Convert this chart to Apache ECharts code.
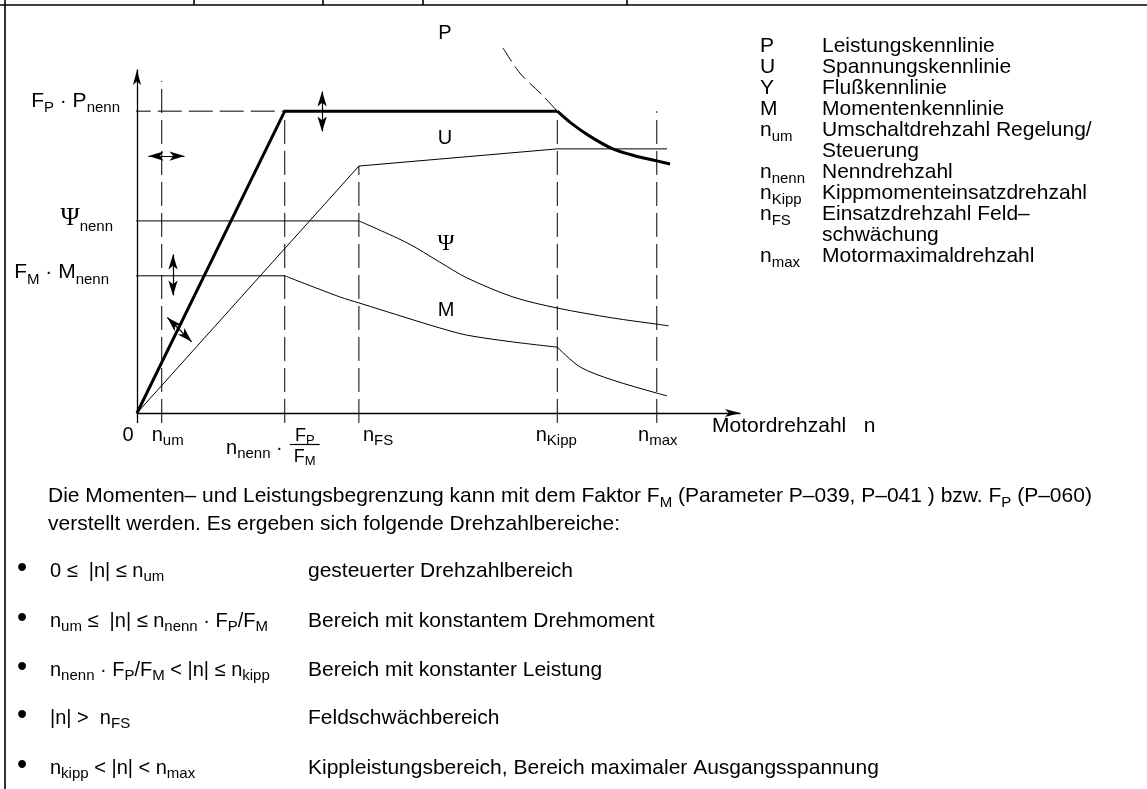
<!DOCTYPE html>
<html>
<head>
<meta charset="utf-8">
<script src="https://cdn.jsdelivr.net/npm/echarts@6/dist/echarts.min.js"></script>
<style>
  html, body { margin: 0; padding: 0; background: #fff; }
  #chart { width: 1147px; height: 789px; }
</style>
</head>
<body>
<div id="chart"></div>
<script>
// ---- speed markers on the n axis (relative units, 0..100) ----
const speedKeys = ['0', 'n_um', 'n_nenn*FP/FM', 'n_FS', 'n_Kipp', 'n_max'];
const speedValues = [0, 4.1, 24.5, 36.8, 69.7, 86.2];
// top of each dashed guide (same order as speedValues, from n_um on)
const guideTops = [96.8, 88, 72, 88, 88];
const guideFloor = -2.9;

// ---- levels on the vertical axis ----
const levelValues = [88, 56, 40];          // F_P·P_nenn, Ψ_nenn, F_M·M_nenn
const levelStart = -1.7;                   // level lines begin left of the axis

// ---- characteristic curves [n, value] ----
const powerRise = [[0, 0], [24.5, 88], [69.7, 88]];
const powerFall = [[69.7, 88], [72.0, 84.5], [75.0, 80.8], [78.9, 77.0], [82.5, 75.0], [86.2, 73.5], [88.4, 72.6]];
const powerHyperbola = [[60.7, 106.4], [63.5, 99.1], [67.2, 92.7], [69.7, 88]];
const voltage = [[0, 0], [36.8, 72.0], [69.7, 77.0], [87.9, 77.0]];
const fluxFall = [[36.8, 56], [44.8, 49.6], [50.2, 44.0], [54.7, 39.4], [62.4, 33.8], [69.7, 30.6], [78.9, 27.7], [86.2, 25.9], [88.2, 25.4]];
const torqueFall = [[24.5, 40], [33.7, 33.8], [36.8, 32.1], [44.8, 27.7], [50.2, 24.8], [54.7, 22.7], [62.4, 20.7], [69.7, 19.2]];
const torqueKipp = [[69.7, 19.2], [73.5, 13.4], [78.9, 9.6], [86.2, 5.8], [87.9, 5.0]];

// ---- adjustment arrows: tip-to-tip [n, value] ----
const adjustArrows = [
  [[0.66, 74.9], [9.12, 74.9]],
  [[30.7, 95.9], [30.7, 79.9]],
  [[5.97, 48.4], [5.97, 32.1]],
  [[4.15, 29.4], [9.95, 19.2]]
];

// ---- texts ----
const speedLabels = [
  [['a', '0']],
  [['a', 'n'], ['as', 'um']],
  null,
  [['a', 'n'], ['as', 'FS']],
  [['a', 'n'], ['as', 'Kipp']],
  [['a', 'n'], ['as', 'max']]
];
const nennLabel = [['a', 'n'], ['as', 'nenn'], ['a', ' ·']];
const fractionTop = [['f', 'F'], ['fs', 'P']];
const fractionBottom = [['f', 'F'], ['fs', 'M']];
const levelLabels = [
  [['m', 'F'], ['s', 'P'], ['m', ' · P'], ['s', 'nenn']],
  [['g', 'Ψ'], ['s', 'nenn']],
  [['m', 'F'], ['s', 'M'], ['m', ' · M'], ['s', 'nenn']]
];
const axisTitle = [['m', 'Motordrehzahl   n']];
const curveNames = [[['c', 'P']], [['c', 'U']], [['cg', 'Ψ']], [['c', 'M']]];
const legendRows = [
  [[['m', 'P']], 'Leistungskennlinie'],
  [[['m', 'U']], 'Spannungskennlinie'],
  [[['m', 'Y']], 'Flußkennlinie'],
  [[['m', 'M']], 'Momentenkennlinie'],
  [[['m', 'n'], ['s', 'um']], 'Umschaltdrehzahl Regelung/'],
  [null, 'Steuerung'],
  [[['m', 'n'], ['s', 'nenn']], 'Nenndrehzahl'],
  [[['m', 'n'], ['s', 'Kipp']], 'Kippmomenteinsatzdrehzahl'],
  [[['m', 'n'], ['s', 'FS']], 'Einsatzdrehzahl Feld–'],
  [null, 'schwächung'],
  [[['m', 'n'], ['s', 'max']], 'Motormaximaldrehzahl']
];
const paragraph = [
  [['p', 'Die Momenten– und Leistungsbegrenzung kann mit dem Faktor F'], ['ps', 'M'], ['p', ' (Parameter P–039, P–041 ) bzw. F'], ['ps', 'P'], ['p', ' (P–060)']],
  [['p', 'verstellt werden. Es ergeben sich folgende Drehzahlbereiche:']]
];
const rangeFormulas = [
  [['r', '0 ≤  |n| ≤ n'], ['rs', 'um']],
  [['r', 'n'], ['rs', 'um'], ['r', ' ≤  |n| ≤ n'], ['rs', 'nenn'], ['r', ' · F'], ['rs', 'P'], ['r', '/F'], ['rs', 'M']],
  [['r', 'n'], ['rs', 'nenn'], ['r', ' · F'], ['rs', 'P'], ['r', '/F'], ['rs', 'M'], ['r', ' < |n| ≤ n'], ['rs', 'kipp']],
  [['r', '|n| >  n'], ['rs', 'FS']],
  [['r', 'n'], ['rs', 'kipp'], ['r', ' < |n| < n'], ['rs', 'max']]
];
const rangeNames = [
  'gesteuerter Drehzahlbereich',
  'Bereich mit konstantem Drehmoment',
  'Bereich mit konstanter Leistung',
  'Feldschwächbereich',
  'Kippleistungsbereich, Bereich maximaler Ausgangsspannung'
];

// ---- layout & style ----
const INK = '#000';
const SANS = '"Liberation Sans", Arial, Helvetica, sans-serif';
const SERIF = '"Liberation Serif", "Times New Roman", serif';
// [font size, family, baseline shift]
const TOKENS = {
  m: [21, 'sans', 0], s: [15, 'sans', 5],
  p: [21, 'sans', 0], ps: [15, 'sans', 5],
  r: [20, 'sans', 0], rs: [15, 'sans', 4],
  a: [20, 'sans', 0], as: [15, 'sans', 4],
  f: [18, 'sans', 0], fs: [13, 'sans', 3],
  g: [26, 'serif', 0], c: [20, 'sans', 0], cg: [23, 'serif', 0],
  b: [29, 'sans', 0]
};
const TOP = 32;
const rich = {};
Object.keys(TOKENS).forEach(function (k) {
  const size = TOKENS[k][0], serif = TOKENS[k][1] === 'serif', dy = TOKENS[k][2];
  const mid = serif ? 0.3375 : 0.3465;
  rich[k] = {
    fontSize: size, fontFamily: serif ? SERIF : SANS, fill: INK,
    lineHeight: 64, verticalAlign: 'top',
    padding: [Math.max(0, TOP + dy - size / 2 - mid * size), 0, 0, 0]
  };
});
function textEl(parts, x, baseline, align) {
  return {
    type: 'text', silent: true, z: 20,
    style: {
      text: parts.map(function (p) { return '{' + p[0] + '|' + p[1] + '}'; }).join(''),
      rich: rich, x: x, y: baseline - TOP, align: align || 'left', verticalAlign: 'top'
    }
  };
}
function segLine(x1, y1, x2, y2, w) {
  return { type: 'line', silent: true, z: 20, shape: { x1: x1, y1: y1, x2: x2, y2: y2 }, style: { stroke: INK, lineWidth: w || 1 } };
}

const speedLabelLayout = [
  { align: 'center', dx: -9 }, { align: 'left', dx: -10 }, null,
  { align: 'left', dx: 4 }, { align: 'center', dx: -1 }, { align: 'center', dx: 1 }
];
const levelLabelLayout = [{ right: 120, dy: -3 }, { right: 113, dy: 6 }, { right: 109, dy: 4 }];
const curveNameLayout = [[445, 40], [445, 145], [446, 252], [446, 317]];
const DASH = [24, 7];

function curve(data, width, extra) {
  return Object.assign({
    type: 'line', data: data, showSymbol: false, symbol: 'none', clip: false, silent: true,
    lineStyle: { color: INK, width: width }, z: 3
  }, extra || {});
}

const series = [];
// dashed speed guides
for (let i = 1; i < speedValues.length; i++) {
  series.push(curve([[speedValues[i], guideFloor], [speedValues[i], guideTops[i - 1]]], 1, { lineStyle: { color: INK, width: 1, type: DASH } }));
}
// level lines
series.push(curve([[levelStart, levelValues[0]], [powerRise[1][0], levelValues[0]]], 1, { lineStyle: { color: INK, width: 1, type: DASH } }));
series.push(curve([[levelStart, levelValues[1]], [fluxFall[0][0], levelValues[1]]], 1));
series.push(curve([[levelStart, levelValues[2]], [torqueFall[0][0], levelValues[2]]], 1));
// characteristics
series.push(curve(voltage, 1));
series.push(curve(fluxFall, 1, { smooth: 0.3 }));
series.push(curve(torqueFall, 1, { smooth: 0.3 }));
series.push(curve(torqueKipp, 1, { smooth: 0.3 }));
series.push(curve(powerHyperbola, 1, { smooth: 0.3, lineStyle: { color: INK, width: 1, type: [16, 6] } }));
series.push(curve(powerRise, 3, { z: 5, lineStyle: { color: INK, width: 3, join: 'miter' } }));
series.push(curve(powerFall, 3, { z: 5, smooth: 0.3 }));
series.push({
  id: 'arrows', type: 'lines', coordinateSystem: 'cartesian2d', clip: false, silent: true, z: 6,
  symbol: ['arrow', 'arrow'], symbolSize: [[7, 15], [7, 15]],
  lineStyle: { color: INK, width: 1.2, opacity: 1 }, data: []
});

const axisLine = { show: true, onZero: false, symbol: ['none', 'arrow'], symbolSize: [6, 15], lineStyle: { color: INK, width: 1.3 } };
const option = {
  animation: false,
  backgroundColor: '#fff',
  grid: { left: 137, top: 70, width: 603, height: 343, containLabel: false },
  xAxis: {
    type: 'value', min: 0, max: 100, axisLine: axisLine,
    axisTick: { show: true, customValues: [0], length: 10, inside: false, lineStyle: { color: INK, width: 1.3 } },
    axisLabel: { show: false }, splitLine: { show: false }
  },
  yAxis: {
    type: 'value', min: 0, max: 100, axisLine: axisLine,
    axisTick: { show: false }, axisLabel: { show: false }, splitLine: { show: false }
  },
  series: series
};

const chart = echarts.init(document.getElementById('chart'), null, { renderer: 'canvas' });
chart.setOption(option);

const toPx = function (x, y) { return chart.convertToPixel({ gridIndex: 0 }, [x, y]); };
const toData = function (p) { return chart.convertFromPixel({ gridIndex: 0 }, p); };

// arrow heads sit centred on line ends: pull ends in by half a head
const HEAD = 7.5;
const arrowData = adjustArrows.map(function (a) {
  const p1 = toPx(a[0][0], a[0][1]), p2 = toPx(a[1][0], a[1][1]);
  const dx = p2[0] - p1[0], dy = p2[1] - p1[1], len = Math.sqrt(dx * dx + dy * dy);
  const ux = dx / len, uy = dy / len;
  return { coords: [toData([p1[0] + ux * HEAD, p1[1] + uy * HEAD]), toData([p2[0] - ux * HEAD, p2[1] - uy * HEAD])] };
});

const els = [];
// page frame
els.push(segLine(0, 5, 1147, 5, 1.6));
els.push(segLine(5, 0, 5, 789, 1.6));
[194, 323, 423, 627].forEach(function (x) { els.push(segLine(x, 0, x, 5, 1.6)); });

// speed tick labels
const axisY = toPx(0, 0)[1];
speedValues.forEach(function (v, i) {
  const px = toPx(v, 0)[0];
  if (speedLabels[i]) {
    els.push(textEl(speedLabels[i], px + speedLabelLayout[i].dx, axisY + 29, speedLabelLayout[i].align));
  } else {
    els.push(textEl(nennLabel, px - 2, axisY + 42, 'right'));
    els.push(textEl(fractionTop, px + 20, axisY + 29, 'center'));
    els.push(segLine(px + 5, axisY + 31.5, px + 35, axisY + 31.5, 1.2));
    els.push(textEl(fractionBottom, px + 20, axisY + 50, 'center'));
  }
});
els.push(textEl(axisTitle, 712, axisY + 20, 'left'));

// level labels
levelValues.forEach(function (v, i) {
  els.push(textEl(levelLabels[i], levelLabelLayout[i].right, toPx(0, v)[1] + levelLabelLayout[i].dy, 'right'));
});

// curve names
curveNames.forEach(function (c, i) {
  els.push(textEl(c, curveNameLayout[i][0], curveNameLayout[i][1], 'center'));
});

// key
legendRows.forEach(function (r, i) {
  const base = 53 + 21 * i;
  if (r[0]) els.push(textEl(r[0], 760, base, 'left'));
  els.push(textEl([['m', r[1]]], 822, base, 'left'));
});

// explanation text
paragraph.forEach(function (line, i) { els.push(textEl(line, 48, 503 + 28 * i, 'left')); });
const rangeBaselines = [578, 628, 677, 725, 775];
rangeFormulas.forEach(function (f, i) {
  els.push(textEl([['b', '•']], 22, rangeBaselines[i] + 1, 'center'));
  els.push(textEl(f, 50, rangeBaselines[i], 'left'));
  els.push(textEl([['p', rangeNames[i]]], 308, rangeBaselines[i], 'left'));
});

chart.setOption({ series: [{ id: 'arrows', data: arrowData }], graphic: { elements: els } });
</script>
</body>
</html>
